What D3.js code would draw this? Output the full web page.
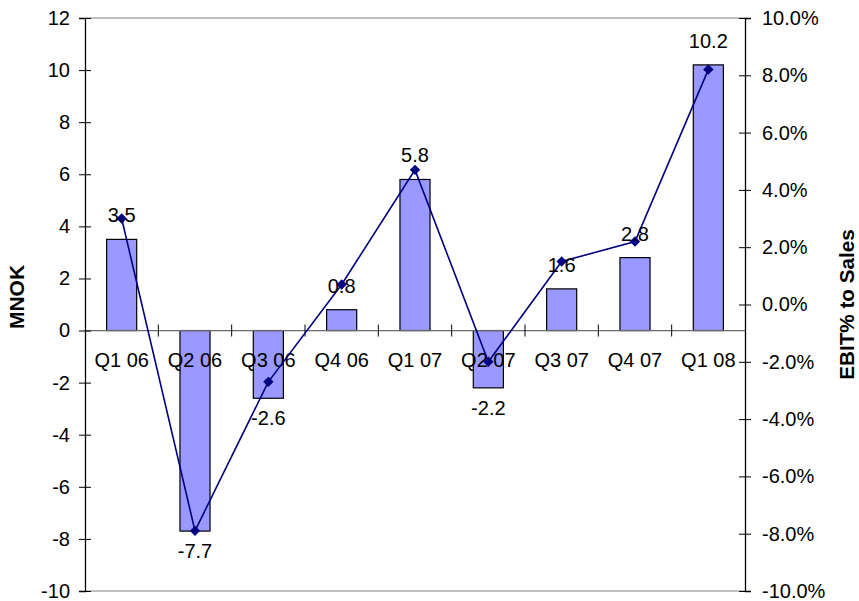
<!DOCTYPE html>
<html>
<head>
<meta charset="utf-8">
<script src="https://cdn.jsdelivr.net/npm/d3@7"></script>
<style>
  html, body { margin: 0; padding: 0; background: #fff; }
  svg { display: block; font-family: "Liberation Sans", Arial, sans-serif; }
</style>
</head>
<body>
<svg id="chart" width="859" height="601"></svg>
<script>
// Quarterly EBIT (MNOK) and EBIT margin (% of sales)
const quarters = ["Q1 06", "Q2 06", "Q3 06", "Q4 06", "Q1 07", "Q2 07", "Q3 07", "Q4 07", "Q1 08"];
const ebitMNOK = [3.5, -7.7, -2.6, 0.8, 5.8, -2.2, 1.6, 2.8, 10.2];
const ebitMargin = [3.0, -7.9, -2.7, 0.7, 4.7, -2.0, 1.5, 2.2, 8.2];
const leftTicks = [-10, -8, -6, -4, -2, 0, 2, 4, 6, 8, 10, 12];
const rightTicks = [-10, -8, -6, -4, -2, 0, 2, 4, 6, 8, 10];

// plain hyphen-minus for negative numbers
const locale = d3.formatLocale({ decimal: ".", thousands: ",", grouping: [3], currency: ["", ""], minus: "-" });
const fmtInt = locale.format("d");
const fmt1 = locale.format(".1f");

const svg = d3.select("#chart");
const plot = { left: 85, right: 745, top: 18, bottom: 591 };
const fontSize = 20;

const x = d3.scaleBand().domain(quarters).range([plot.left, plot.right])
  .paddingInner(0.59).paddingOuter(0.295);
const xCat = d3.scaleBand().domain(quarters).range([plot.left, plot.right]).padding(0);
const yL = d3.scaleLinear().domain([-10, 12]).range([plot.bottom, plot.top]);
const yR = d3.scaleLinear().domain([-10, 10]).range([plot.bottom, plot.top]);

// plot frame (top and bottom edges)
svg.append("line").attr("x1", plot.left).attr("x2", plot.right)
  .attr("y1", plot.top).attr("y2", plot.top).attr("stroke", "#808080").attr("stroke-width", 1.2);
svg.append("line").attr("x1", plot.left).attr("x2", plot.right)
  .attr("y1", plot.bottom).attr("y2", plot.bottom).attr("stroke", "#808080").attr("stroke-width", 1.2);

// bars
svg.append("g").selectAll("rect").data(quarters).join("rect")
  .attr("x", d => x(d))
  .attr("width", x.bandwidth())
  .attr("y", (d, i) => yL(Math.max(0, ebitMNOK[i])))
  .attr("height", (d, i) => Math.abs(yL(ebitMNOK[i]) - yL(0)))
  .attr("fill", "#9999FF")
  .attr("stroke", "#000")
  .attr("stroke-width", 1.2);

// category axis along zero
const y0 = yL(0);
svg.append("line").attr("x1", plot.left).attr("x2", plot.right)
  .attr("y1", y0).attr("y2", y0).attr("stroke", "#6a6a6a").attr("stroke-width", 1.2);
svg.append("g").selectAll("line").data(quarters.slice(1)).join("line")
  .attr("x1", d => xCat(d)).attr("x2", d => xCat(d))
  .attr("y1", y0 - 6).attr("y2", y0 + 6)
  .attr("stroke", "#000").attr("stroke-width", 1);
svg.append("g").selectAll("text").data(quarters).join("text")
  .attr("x", d => xCat(d) + xCat.bandwidth() / 2)
  .attr("y", y0 + 36)
  .attr("text-anchor", "middle")
  .attr("font-size", fontSize)
  .text(d => d);

// left axis
const gL = svg.append("g").attr("transform", `translate(${plot.left},0)`)
  .call(d3.axisLeft(yL).tickValues(leftTicks).tickSize(6).tickPadding(9).tickFormat(fmtInt));
gL.select(".domain").attr("stroke", "#000").attr("stroke-width", 1.3);
gL.selectAll(".tick line").attr("x1", -6).attr("x2", 6).attr("stroke", "#000");
gL.selectAll(".tick text").attr("font-size", fontSize).attr("font-family", "Liberation Sans, Arial, sans-serif").attr("fill", "#000");

// right axis
const gR = svg.append("g").attr("transform", `translate(${plot.right},0)`)
  .call(d3.axisRight(yR).tickValues(rightTicks).tickSize(6).tickPadding(11)
    .tickFormat(d => fmt1(d) + "%"));
gR.select(".domain").attr("stroke", "#000").attr("stroke-width", 1.3);
gR.selectAll(".tick line").attr("x1", -6).attr("x2", 6).attr("stroke", "#000");
gR.selectAll(".tick text").attr("font-size", fontSize).attr("font-family", "Liberation Sans, Arial, sans-serif").attr("fill", "#000");

// margin line with diamond markers
const cx = d => xCat(d) + xCat.bandwidth() / 2;
const line = d3.line().x((d, i) => cx(quarters[i])).y(d => yR(d));
svg.append("path").datum(ebitMargin)
  .attr("d", line).attr("fill", "none").attr("stroke", "#000080").attr("stroke-width", 1.6);
svg.append("g").selectAll("path").data(ebitMargin).join("path")
  .attr("transform", (d, i) => `translate(${cx(quarters[i])},${yR(d)})`)
  .attr("d", "M0,-5.2L5.2,0L0,5.2L-5.2,0Z")
  .attr("fill", "#000080");

// value labels on the bars
svg.append("g").selectAll("text").data(ebitMNOK).join("text")
  .attr("x", (d, i) => cx(quarters[i]))
  .attr("y", d => d >= 0 ? yL(d) - 17 : yL(d) + 27)
  .attr("text-anchor", "middle")
  .attr("font-size", fontSize)
  .text(d => fmt1(d));

// axis titles
svg.append("text")
  .attr("transform", "translate(24,297) rotate(-90)")
  .attr("text-anchor", "middle").attr("font-weight", "bold").attr("font-size", 21)
  .text("MNOK");
svg.append("text")
  .attr("transform", "translate(854,304.5) rotate(-90)")
  .attr("text-anchor", "middle").attr("font-weight", "bold").attr("font-size", 20.7)
  .text("EBIT% to Sales");
</script>
</body>
</html>
